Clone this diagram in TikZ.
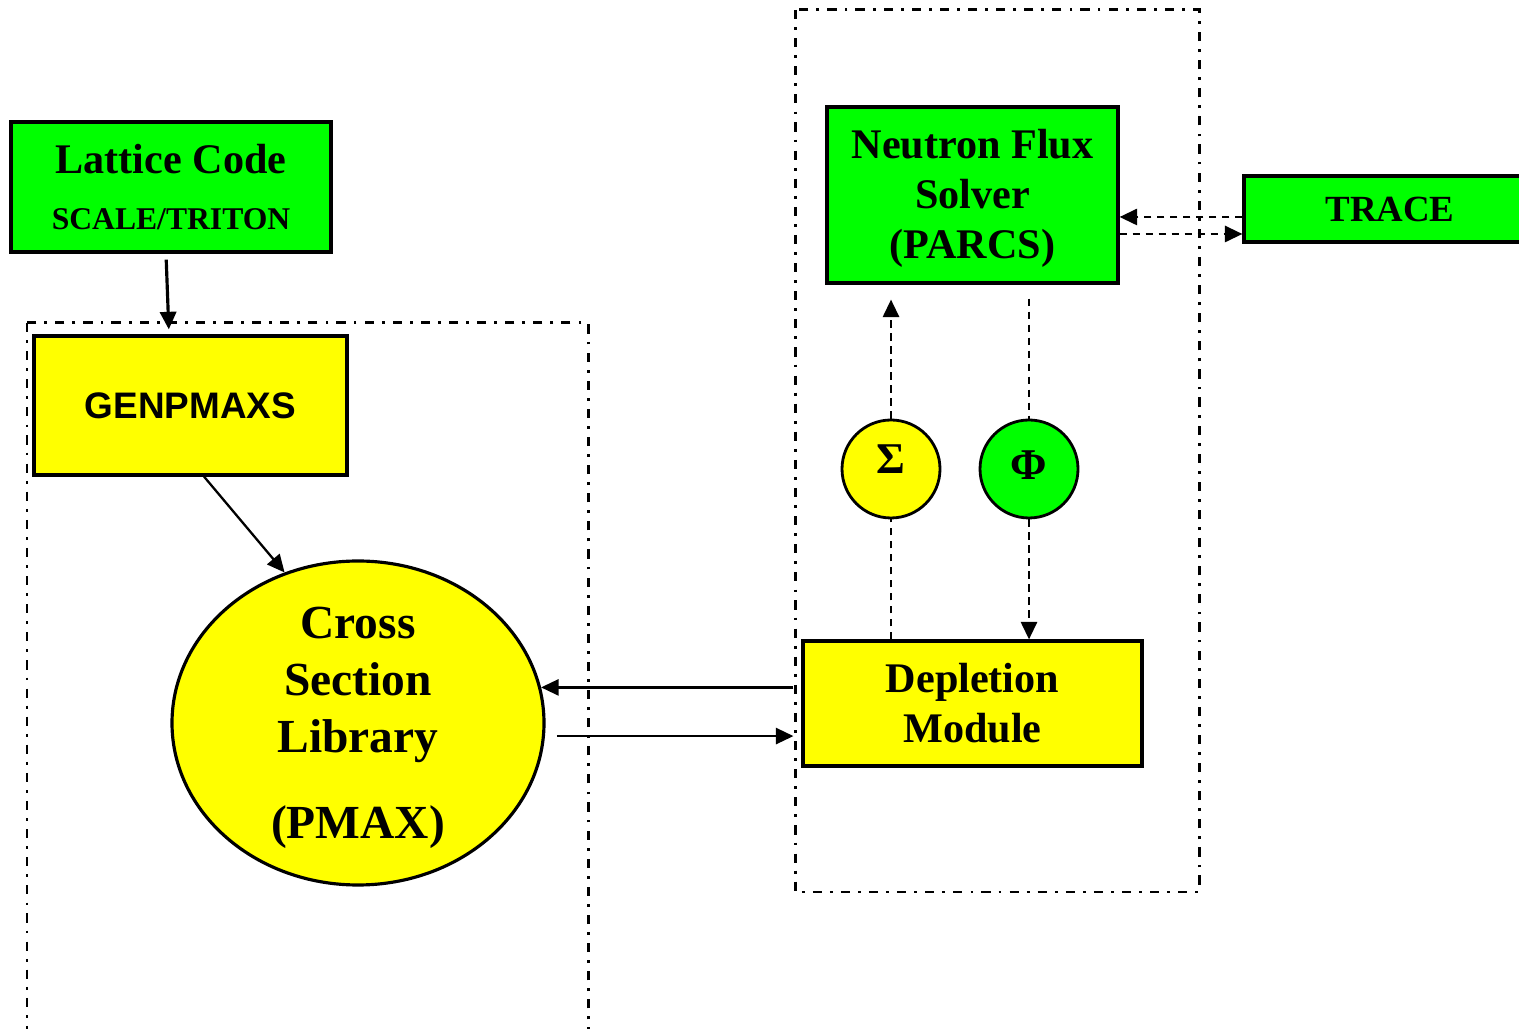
\documentclass[tikz,border=0pt]{standalone}
\usepackage{fontspec}
\setmainfont{Liberation Serif}
\newfontfamily\arialfont{Liberation Sans}
\usetikzlibrary{positioning,shapes.geometric,arrows.meta}
\definecolor{codegreen}{RGB}{0,255,0}
\definecolor{codeyellow}{RGB}{255,255,0}

\begin{document}
\begin{tikzpicture}[>={Triangle[length=5pt,width=4.6pt]},line width=0.65pt,on grid,
  box/.style={draw,line width=0.9pt,inner sep=0pt,align=center},
  greenbox/.style={box,fill=codegreen},
  yellowbox/.style={box,fill=codeyellow},
  ball/.style={draw,circle,line width=0.8pt,minimum size=0.98cm,inner sep=0pt,
    font=\bfseries\fontsize{12.5}{12.5}\selectfont},
  frame/.style={line width=0.85pt,dash pattern=on 2.6pt off 2.3pt on 0.8pt off 2.3pt},
  flow/.style={line width=0.7pt,dash pattern=on 2.2pt off 1.5pt}]
  \useasboundingbox (0,0) rectangle (15.19,-10.29);
  \clip (0,0) rectangle (15.19,-10.29);

  % dash-dot frames
  \draw[frame] (0.27,-3.23) rectangle (5.88,-10.6);
  \draw[frame] (7.95,-0.10) rectangle (11.99,-8.92);

  \path
  node[greenbox,minimum width=3.20cm,minimum height=1.30cm,font=\bfseries\fontsize{12}{14}\selectfont]
    (lattice) at (1.71,-1.87) {\raisebox{-3pt}{Lattice Code}\\[5pt]{\fontsize{9}{10}\selectfont SCALE/TRITON}}
  node[yellowbox,minimum width=3.13cm,minimum height=1.39cm,font=\arialfont\bfseries\fontsize{10.5}{12}\selectfont]
    (genpmaxs) at (1.905,-4.055) {GENPMAXS}
  node[yellowbox,ellipse,minimum width=3.72cm,minimum height=3.24cm,
    label={[align=center,font=\bfseries\fontsize{13.5}{16.2}\selectfont,yshift=-0.05cm]center:Cross\\Section\\Library\\[8.4pt](PMAX)}]
    (pmax) at (3.58,-7.23) {}
  node[greenbox,minimum width=2.91cm,minimum height=1.76cm,font=\bfseries\fontsize{12}{14.2}\selectfont,
    text depth=0.02cm]
    (flux) at (9.725,-1.95) {Neutron Flux\\Solver\\(PARCS)}
  node[greenbox,minimum width=2.92cm,minimum height=0.66cm,font=\bfseries\fontsize{10.5}{12}\selectfont]
    (trace) at (13.90,-2.09) {TRACE}
  node[yellowbox,minimum width=3.39cm,minimum height=1.25cm,font=\bfseries\fontsize{12}{14.2}\selectfont]
    (depletion) [below=5.085cm of flux] {Depletion\\Module}
  node[ball,fill=codeyellow] (sigma) at (8.91,-4.69) {\raisebox{5.5pt}{Σ}}
  node[ball,fill=codegreen] (phi) [right=1.38cm of sigma] {\raisebox{2pt}{Φ}}
  ;

  \path[->]
  ([xshift=-0.05cm]lattice.south) edge[line width=0.9pt,shorten <=0.06cm,shorten >=0.05cm] ([xshift=-0.215cm]genpmaxs.north)
  ([xshift=0.135cm]genpmaxs.south) edge (pmax.116)

  (pmax.11.5 -| depletion.west) edge[shorten <=0.08cm] (pmax.11.5)
  (pmax.-4) edge[shorten <=0.12cm,shorten >=0.08cm] (pmax.-4 -| depletion.west)
  ;

  \path[->,flow]
  ([yshift=-0.08cm]trace.west) edge ([yshift=-0.08cm]trace.west -| flux.east)
  ([yshift=-0.39cm]flux.east) edge ([yshift=-0.39cm]flux.east -| trace.west)

  (sigma) edge[shorten >=0.15cm] (sigma |- flux.south)
  (depletion.north -| sigma) edge[-] (sigma)

  (flux.south -| phi) edge[-,shorten <=0.14cm] (phi)
  (phi) edge (phi |- depletion.north)
  ;
\end{tikzpicture}
\end{document}
